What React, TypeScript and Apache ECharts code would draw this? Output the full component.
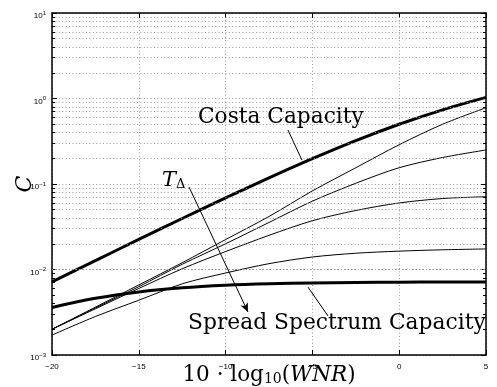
import React, { useEffect, useRef } from 'react';
import * as echarts from 'echarts';

// x: 10·log10(WNR) in dB
const xValues = [-20, -17.5, -15, -12.5, -10, -7.5, -5, -2.5, 0, 2.5, 5];
const costaCapacity = [0.00718, 0.0127, 0.0225, 0.0395, 0.0688, 0.118, 0.198, 0.322, 0.5, 0.737, 1.03];
const spreadSpectrum = [0.0036, 0.0046, 0.00546, 0.0061, 0.00653, 0.0068, 0.00696, 0.00705, 0.00711, 0.00714, 0.00716];
const curveA = [0.002, 0.00363, 0.0066, 0.012, 0.0224, 0.0417, 0.083, 0.155, 0.288, 0.5, 0.78];
const curveB = [0.002, 0.00355, 0.0063, 0.0115, 0.02, 0.0355, 0.063, 0.102, 0.155, 0.204, 0.25];
const curveC = [0.002, 0.00347, 0.006, 0.0102, 0.0162, 0.0251, 0.0372, 0.049, 0.06, 0.0676, 0.071];
const curveD = [0.00171, 0.00282, 0.00437, 0.0068, 0.0091, 0.0117, 0.014, 0.0155, 0.0164, 0.017, 0.0174];

const xTicks = [-20, -15, -10, -5, 0, 5];
const decades = [-3, -2, -1, 0];
const minorMultipliers = [2, 3, 4, 5, 6, 7, 8, 9];

// annotation lines (data coordinates)
const tArrow = [[-12.11, 0.0923], [-8.71, 0.00318]];
const costaLeader = [[-6.41, 0.428], [-5.6, 0.19]];
const spreadLeader = [[-5.25, 0.0062], [-4.1, 0.00286]];

const SERIF = '"DejaVu Serif", "Liberation Serif", serif';
const SANS = '"Liberation Sans", Arial, Helvetica, sans-serif';

export default function App() {
  const ref = useRef<HTMLDivElement>(null);
  useEffect(() => {
    const chart = echarts.init(ref.current!, null, { renderer: 'svg' });
    const minorValues: number[] = [];
    decades.forEach((d) => minorMultipliers.forEach((m) => minorValues.push(m * Math.pow(10, d))));

    const toData = (arr: number[]) => xValues.map((x, i) => [x, arr[i]]);
    const gridStyle = { color: '#999', width: 1, type: [1, 2.4] as any };
    const minorTickLen = 0.17;

    const minorTickLines: any[] = [];
    minorValues.forEach((v) => {
      minorTickLines.push([{ coord: [-20, v] }, { coord: [-20 + minorTickLen, v] }]);
      minorTickLines.push([{ coord: [5 - minorTickLen, v] }, { coord: [5, v] }]);
    });

    const thin = (name: string, arr: number[]) => ({
      name,
      type: 'line',
      data: toData(arr),
      smooth: 0.3,
      symbol: 'none',
      lineStyle: { color: '#000', width: 1 },
      z: 3,
    });

    const yLabelFormatter = (v: number) => {
      const e = Math.round(Math.log10(v));
      return `{b|10}{s|${e < 0 ? '−' + -e : e}}`;
    };

    const option: any = {
      animation: false,
      grid: { left: 52, right: 11, top: 13, bottom: 32, show: false },
      xAxis: [
        {
          type: 'value',
          min: -20,
          max: 5,
          interval: 5,
          position: 'bottom',
          axisLine: { show: true, onZero: false, lineStyle: { color: '#000', width: 1.5 } },
          axisTick: { show: true, inside: true, length: 5, lineStyle: { color: '#000', width: 1 } },
          axisLabel: {
            color: '#000',
            fontFamily: SANS,
            fontSize: 8,
            margin: 7,
            formatter: (v: number) => (xTicks.includes(v) ? (v < 0 ? '−' + -v : String(v)) : ''),
          },
          splitLine: { show: true, lineStyle: gridStyle },
        },
        {
          type: 'value',
          min: -20,
          max: 5,
          interval: 5,
          position: 'top',
          axisLine: { show: true, onZero: false, lineStyle: { color: '#000', width: 1.5 } },
          axisTick: { show: true, inside: true, length: 5, lineStyle: { color: '#000', width: 1 } },
          axisLabel: { show: false },
          splitLine: { show: false },
        },
      ],
      yAxis: [
        {
          type: 'log',
          logBase: 10,
          min: 0.001,
          max: 10,
          splitNumber: 4,
          position: 'left',
          axisLine: { show: true, onZero: false, lineStyle: { color: '#000', width: 1.5 } },
          axisTick: { show: true, inside: true, length: 5, lineStyle: { color: '#000', width: 1 } },
          axisLabel: {
            color: '#000',
            margin: 6,
            padding: [5, 0, 0, 0],
            formatter: yLabelFormatter,
            rich: {
              b: { fontFamily: SANS, fontSize: 8, lineHeight: 12, color: '#000' },
              s: { fontFamily: SANS, fontSize: 6, lineHeight: 5, verticalAlign: 'top', color: '#000' },
            },
          },
          splitLine: { show: true, lineStyle: gridStyle },
        },
        {
          type: 'log',
          logBase: 10,
          min: 0.001,
          max: 10,
          splitNumber: 4,
          position: 'right',
          axisLine: { show: true, onZero: false, lineStyle: { color: '#000', width: 1.5 } },
          axisTick: { show: true, inside: true, length: 5, lineStyle: { color: '#000', width: 1 } },
          axisLabel: { show: false },
          splitLine: { show: false },
        },
      ],
      series: [
        {
          name: 'grid',
          type: 'line',
          data: [],
          silent: true,
          z: 1,
          markLine: {
            silent: true,
            symbol: ['none', 'none'],
            label: { show: false },
            lineStyle: gridStyle,
            data: minorValues.map((v) => ({ yAxis: v })),
          },
        },
        {
          name: 'minorTicks',
          type: 'line',
          data: [],
          silent: true,
          z: 5,
          markLine: {
            silent: true,
            symbol: ['none', 'none'],
            label: { show: false },
            lineStyle: { color: '#000', width: 1, type: 'solid' },
            data: minorTickLines,
          },
        },
        thin('A', curveA),
        thin('B', curveB),
        thin('C', curveC),
        thin('D', curveD),
        {
          name: 'Costa Capacity',
          type: 'line',
          data: toData(costaCapacity),
          smooth: 0.35,
          symbol: 'none',
          lineStyle: { color: '#000', width: 3 },
          z: 4,
        },
        {
          name: 'Spread Spectrum Capacity',
          type: 'line',
          data: toData(spreadSpectrum),
          smooth: 0.35,
          symbol: 'none',
          lineStyle: { color: '#000', width: 3 },
          z: 4,
        },
        {
          name: 'annotations',
          type: 'line',
          data: [],
          silent: true,
          z: 6,
          markLine: {
            silent: true,
            symbol: ['none', 'none'],
            label: { show: false },
            lineStyle: { color: '#000', width: 1, type: 'solid' },
            data: [
              [
                { coord: tArrow[0], symbol: 'none' },
                { coord: tArrow[1], symbol: 'arrow', symbolSize: [6, 9] },
              ],
              [{ coord: costaLeader[0] }, { coord: costaLeader[1] }],
              [{ coord: spreadLeader[0] }, { coord: spreadLeader[1] }],
            ],
          },
        },
      ],
      graphic: [
        {
          type: 'text',
          left: 198,
          top: 104,
          z: 100,
          style: { text: 'Costa Capacity', font: `21.7px ${SERIF}`, fill: '#000' },
        },
        {
          type: 'text',
          left: 188,
          top: 310,
          z: 100,
          style: { text: 'Spread Spectrum Capacity', font: `21.8px ${SERIF}`, fill: '#000' },
        },
        {
          type: 'text',
          left: 162,
          top: 168,
          z: 100,
          style: {
            text: '{t|T}{d|Δ}',
            rich: {
              t: { fontFamily: SERIF, fontStyle: 'italic', fontSize: 21, lineHeight: 22, fill: '#000' },
              d: { fontFamily: SERIF, fontSize: 13, lineHeight: 12, verticalAlign: 'bottom', fill: '#000' },
            },
          },
        },
        {
          type: 'text',
          x: 269,
          y: 362,
          z: 100,
          style: {
            text: '10 · log{sub|10}({it|WNR})',
            align: 'center',
            verticalAlign: 'top',
            fontFamily: SERIF,
            fontSize: 21.5,
            fill: '#000',
            rich: {
              sub: { fontFamily: SERIF, fontSize: 14, lineHeight: 12, verticalAlign: 'bottom', fill: '#000' },
              it: { fontFamily: SERIF, fontStyle: 'italic', fontSize: 21.5, lineHeight: 23, fill: '#000' },
            },
          },
        },
        {
          type: 'text',
          x: 23,
          y: 184,
          rotation: Math.PI / 2,
          z: 100,
          style: {
            text: 'C',
            align: 'center',
            verticalAlign: 'middle',
            font: `italic 22px ${SERIF}`,
            fill: '#000',
          },
        },
      ],
    };
    chart.setOption(option);
    return () => chart.dispose();
  }, []);
  return <div ref={ref} style={{ position: 'fixed', left: 0, top: 0, width: 497, height: 387 }} />;
}
